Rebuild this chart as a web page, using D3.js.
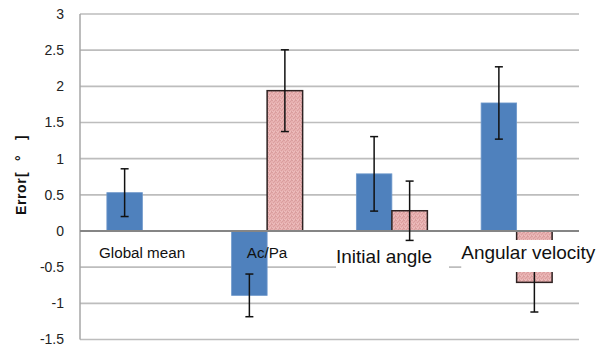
<!DOCTYPE html>
<html><head><meta charset="utf-8">
<script src="https://cdn.jsdelivr.net/npm/d3@7"></script>
<style>html,body{margin:0;padding:0;background:#fff}svg{display:block}</style>
</head><body>
<script>
// ---- data ----
const categories = ["Global mean", "Ac/Pa", "Initial angle", "Angular velocity"];
const seriesNames = ["A", "B"];
const blueValues = [0.53, -0.89, 0.79, 1.77];
const blueErrors = [0.33, 0.295, 0.515, 0.50];
const pinkValues = [null, 1.94, 0.28, -0.71];
const pinkErrors = [null, 0.565, 0.41, 0.41];
const yTicks = [3, 2.5, 2, 1.5, 1, 0.5, 0, -0.5, -1, -1.5];
const yTitleParts = ["Error", "[", "°", "]"];

// ---- layout ----
const W = 611, H = 349;
const plot = {left: 80, right: 579, top: 14, bottom: 339.5};
const svg = d3.select("body").append("svg").attr("width", W).attr("height", H);
const defs = svg.append("defs");
const pat = defs.append("pattern").attr("id", "pinkdots").attr("patternUnits", "userSpaceOnUse")
  .attr("width", 4).attr("height", 4);
pat.append("rect").attr("width", 4).attr("height", 4).attr("fill", "#E7B0B0");
[[0,0],[2,1],[1,2],[3,3],[3,0]].forEach(([px,py]) =>
  pat.append("rect").attr("x", px).attr("y", py).attr("width", 1).attr("height", 1).attr("fill", "#DA9E9E"));
[[1,0],[0,3],[2,3]].forEach(([px,py]) =>
  pat.append("rect").attr("x", px).attr("y", py).attr("width", 1).attr("height", 1).attr("fill", "#EDBDBD"));

const y = d3.scaleLinear().domain([-1.5, 3]).range([plot.bottom, plot.top]);
const x = d3.scaleBand().domain(categories).range([plot.left, plot.right]).padding(0);
const barW = 35.5;
const x1 = d3.scaleBand().domain(seriesNames).range([-barW, barW]);

// gridlines
svg.append("g").selectAll("line").data(yTicks.filter(t => t !== 0)).join("line")
  .attr("x1", plot.left).attr("x2", plot.right)
  .attr("y1", d => y(d)).attr("y2", d => y(d))
  .attr("stroke", "#BDBDBD").attr("stroke-width", 1.6);

// y axis
const yAxis = d3.axisLeft(y).tickValues(yTicks).tickSize(0).tickPadding(16).tickFormat(d => String(d));
const ga = svg.append("g").attr("transform", `translate(${plot.left},0)`).call(yAxis);
ga.select(".domain").remove();
ga.selectAll("text").attr("font-family", "Liberation Sans, Arial, sans-serif").attr("font-size", 14).attr("fill", "#222");
svg.append("line").attr("x1", plot.left).attr("x2", plot.left).attr("y1", y(3)).attr("y2", y(-1.5))
  .attr("stroke", "#A6A6A6").attr("stroke-width", 1.5);

// bars
const rows = categories.map((c, i) => ({c, bv: blueValues[i], be: blueErrors[i], pv: pinkValues[i], pe: pinkErrors[i]}));
const cx = c => x(c) + x.bandwidth() / 2;
svg.append("g").selectAll("rect").data(rows).join("rect")
  .attr("x", d => cx(d.c) + x1("A")).attr("width", x1.bandwidth())
  .attr("y", d => y(Math.max(0, d.bv))).attr("height", d => Math.abs(y(d.bv) - y(0)))
  .attr("fill", "#4F81BD").attr("stroke", "#6E98CB").attr("stroke-width", 0.8);
const pinkRows = rows.filter(d => d.pv !== null);
svg.append("g").selectAll("rect").data(pinkRows).join("rect")
  .attr("x", d => cx(d.c) + x1("B")).attr("width", x1.bandwidth())
  .attr("y", d => y(Math.max(0, d.pv))).attr("height", d => Math.abs(y(d.pv) - y(0)))
  .attr("fill", "url(#pinkdots)").attr("stroke", "#2E2222").attr("stroke-width", 1.5);

// zero line
svg.append("line").attr("x1", plot.left).attr("x2", plot.right).attr("y1", y(0)).attr("y2", y(0))
  .attr("stroke", "#858585").attr("stroke-width", 2);

// error bars
const errs = [];
rows.forEach(d => {
  errs.push({x: cx(d.c) + x1("A") + x1.bandwidth() / 2, v: d.bv, e: d.be});
  if (d.pv !== null) errs.push({x: cx(d.c) + x1("B") + x1.bandwidth() / 2, v: d.pv, e: d.pe});
});
const eg = svg.append("g").attr("stroke", "#111").attr("stroke-width", 1.5);
errs.forEach(d => {
  eg.append("line").attr("x1", d.x).attr("x2", d.x).attr("y1", y(d.v - d.e)).attr("y2", y(d.v + d.e));
  [d.v - d.e, d.v + d.e].forEach(v => eg.append("line").attr("x1", d.x - 4).attr("x2", d.x + 4).attr("y1", y(v)).attr("y2", y(v)));
});

// category labels (text boxes)
const labelLayout = [
  {dx: 19, baseline: 258, size: 15.2, box: null},
  {dx: 42, baseline: 258, size: 15.2, box: null},
  {dx: 6.5, baseline: 262.5, size: 19, box: {x0: 6.5, x1: 119.5, y0: 243, y1: 273}},
  {dx: 7, baseline: 259, size: 19, box: {x0: 7, x1: 160, y0: 240, y1: 272}}
];
categories.forEach((c, i) => {
  const L = labelLayout[i], bx = x(c);
  if (L.box) svg.append("rect").attr("x", bx + L.box.x0).attr("y", L.box.y0)
    .attr("width", L.box.x1 - L.box.x0).attr("height", L.box.y1 - L.box.y0).attr("fill", "#fff");
  svg.append("text").attr("x", bx + L.dx).attr("y", L.baseline).text(c)
    .attr("font-family", "Liberation Sans, Arial, sans-serif").attr("font-size", L.size).attr("fill", "#111");
});

// y title
const tOffsets = [0, 38, 54, 75];
const tt = svg.append("text").attr("transform", "translate(25.5,215) rotate(-90)")
  .attr("font-family", "Liberation Sans, Arial, sans-serif").attr("font-weight", "bold").attr("font-size", 14)
  .attr("fill", "#111");
yTitleParts.forEach((p, i) => tt.append("tspan").attr("x", tOffsets[i])
  .attr("letter-spacing", i === 0 ? 0.6 : 0).text(p));
</script>
</body></html>
